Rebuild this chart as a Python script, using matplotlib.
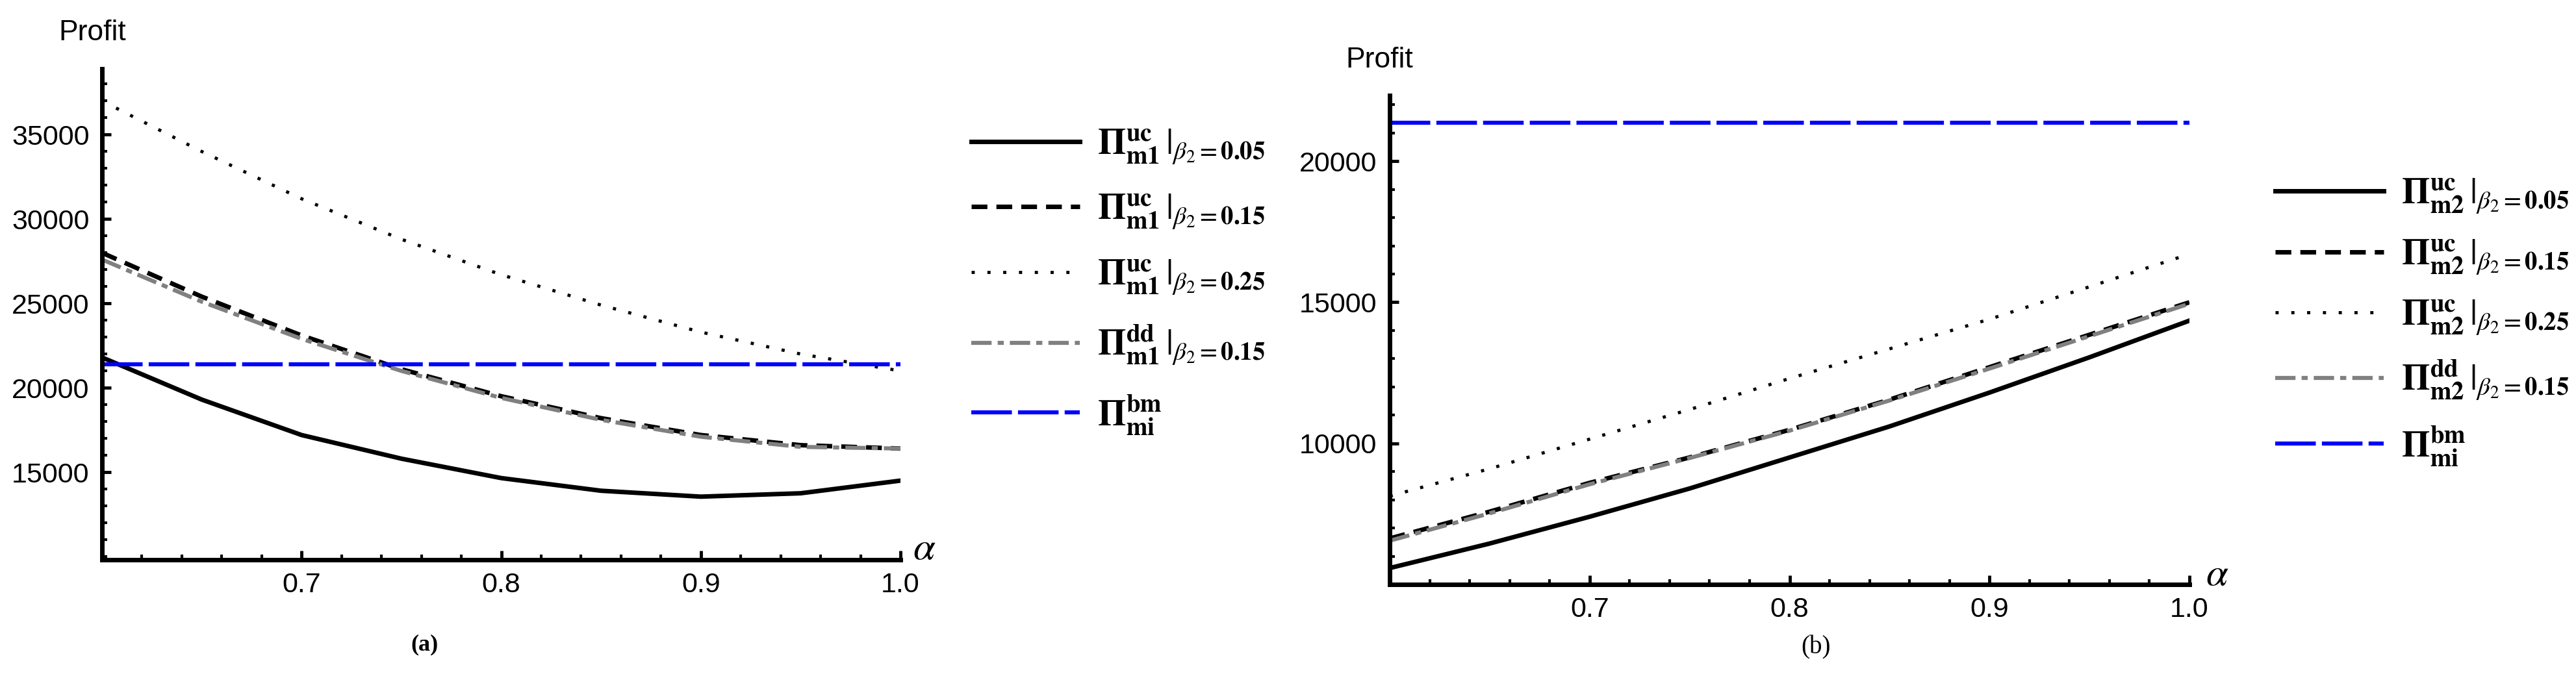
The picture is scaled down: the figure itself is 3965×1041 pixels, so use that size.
import matplotlib
matplotlib.use("Agg")
import matplotlib.pyplot as plt
from matplotlib.ticker import MultipleLocator

plt.rcParams['mathtext.fontset'] = 'stix'
plt.rcParams['font.family'] = ['Liberation Sans', 'DejaVu Sans']

alpha = [0.6, 0.65, 0.7, 0.75, 0.8, 0.85, 0.9, 0.95, 1.0]

# panel (a)
a_uc05 = [21800, 19300, 17200, 15800, 14650, 13900, 13550, 13750, 14500]
a_uc15 = [28000, 25400, 23100, 21100, 19500, 18200, 17200, 16600, 16400]
a_uc25 = [37000, 34000, 31200, 28800, 26700, 24900, 23300, 22000, 21000]
a_dd15 = [27600, 25100, 22900, 21000, 19400, 18100, 17100, 16500, 16400]
a_bm = 21400

# panel (b)
b_uc05 = [5580, 6450, 7400, 8400, 9500, 10600, 11800, 13050, 14350]
b_uc15 = [6630, 7580, 8600, 9500, 10480, 11550, 12700, 13850, 15000]
b_uc25 = [8130, 9100, 10150, 11200, 12300, 13350, 14400, 15550, 16710]
b_dd15 = [6550, 7520, 8550, 9480, 10450, 11520, 12650, 13800, 14950]
b_bm = 21370

xticks = [0.7, 0.8, 0.9, 1.0]

W, H = 3966, 1041
fig = plt.figure(figsize=(W / 100, H / 100), dpi=100)

def px(x0, y0, x1, y1):
    return [x0 / W, 1 - y1 / H, (x1 - x0) / W, (y1 - y0) / H]

axA = fig.add_axes(px(157, 106, 1386, 862))
axB = fig.add_axes(px(2139, 147, 3370, 900))

def style(ax, ylim, yticks):
    ax.set_xlim(0.6, 1.0)
    ax.set_ylim(*ylim)
    for s in ['top', 'right']:
        ax.spines[s].set_visible(False)
    for s in ['left', 'bottom']:
        ax.spines[s].set_linewidth(5)
    ax.set_xticks(xticks)
    ax.set_xticklabels(['0.7', '0.8', '0.9', '1.0'])
    ax.set_yticks(yticks)
    ax.xaxis.set_minor_locator(MultipleLocator(0.02))
    ax.yaxis.set_minor_locator(MultipleLocator(1000))
    ax.tick_params(which='major', direction='in', length=10, width=3.5, labelsize=31, pad=14)
    ax.tick_params(which='minor', direction='in', length=6, width=3)
    ax.patch.set_visible(False)

def draw(ax, s05, s15, s25, dd, bm, sub):
    l1, = ax.plot(alpha, s05, color='black', lw=5)
    l2, = ax.plot(alpha, s15, color='black', lw=5, ls=(0, (3.5, 2)))
    l3, = ax.plot(alpha, s25, color='black', lw=3.5, ls=(0, (1, 4)))
    l4, = ax.plot(alpha, dd, color='gray', lw=4.5, ls=(0, (5, 1.5, 1.5, 1.5)))
    l5, = ax.plot([alpha[0], alpha[-1]], [bm, bm], color='blue', lw=4.5, ls=(0, (10, 1.5)))
    labels = [r'$\mathbf{\Pi}^{\mathbf{uc}}_{\mathbf{%s}}\,|_{\beta_2=\mathbf{0.05}}$' % sub,
              r'$\mathbf{\Pi}^{\mathbf{uc}}_{\mathbf{%s}}\,|_{\beta_2=\mathbf{0.15}}$' % sub,
              r'$\mathbf{\Pi}^{\mathbf{uc}}_{\mathbf{%s}}\,|_{\beta_2=\mathbf{0.25}}$' % sub,
              r'$\mathbf{\Pi}^{\mathbf{dd}}_{\mathbf{%s}}\,|_{\beta_2=\mathbf{0.15}}$' % sub,
              r'$\mathbf{\Pi}^{\mathbf{bm}}_{\mathbf{mi}}$']
    return [l1, l2, l3, l4, l5], labels

style(axA, (9810, 38900), [15000, 20000, 25000, 30000, 35000])
style(axB, (5000, 22330), [10000, 15000, 20000])
hA, lA = draw(axA, a_uc05, a_uc15, a_uc25, a_dd15, a_bm, 'm1')
hB, lB = draw(axB, b_uc05, b_uc15, b_uc25, b_dd15, b_bm, 'm2')

fig.legend(hA, lA, loc='center left', bbox_to_anchor=(1445 / W, 1 - 434 / H),
           frameon=False, fontsize=40, handlelength=3.0, handletextpad=0.5, labelspacing=0.75)
fig.legend(hB, lB, loc='center left', bbox_to_anchor=(3452 / W, 1 - 496 / H),
           frameon=False, fontsize=40, handlelength=3.0, handletextpad=0.5, labelspacing=0.62)

fig.text(90 / W, 1 - 50 / H, 'Profit', fontsize=32, va='center', ha='left')
fig.text(2071 / W, 1 - 92 / H, 'Profit', fontsize=32, va='center', ha='left')
fig.text(1405 / W, 1 - 845 / H, r'$\alpha$', fontsize=44, va='center', ha='left')
fig.text(3395 / W, 1 - 885 / H, r'$\alpha$', fontsize=44, va='center', ha='left')
fig.text(654 / W, 1 - 993 / H, '(a)', fontsize=26, fontweight='bold', family='Liberation Serif', ha='center', va='center')
fig.text(2795 / W, 1 - 997 / H, '(b)', fontsize=28, family='Liberation Serif', ha='center', va='center')

fig.savefig('out.png', dpi=100)
